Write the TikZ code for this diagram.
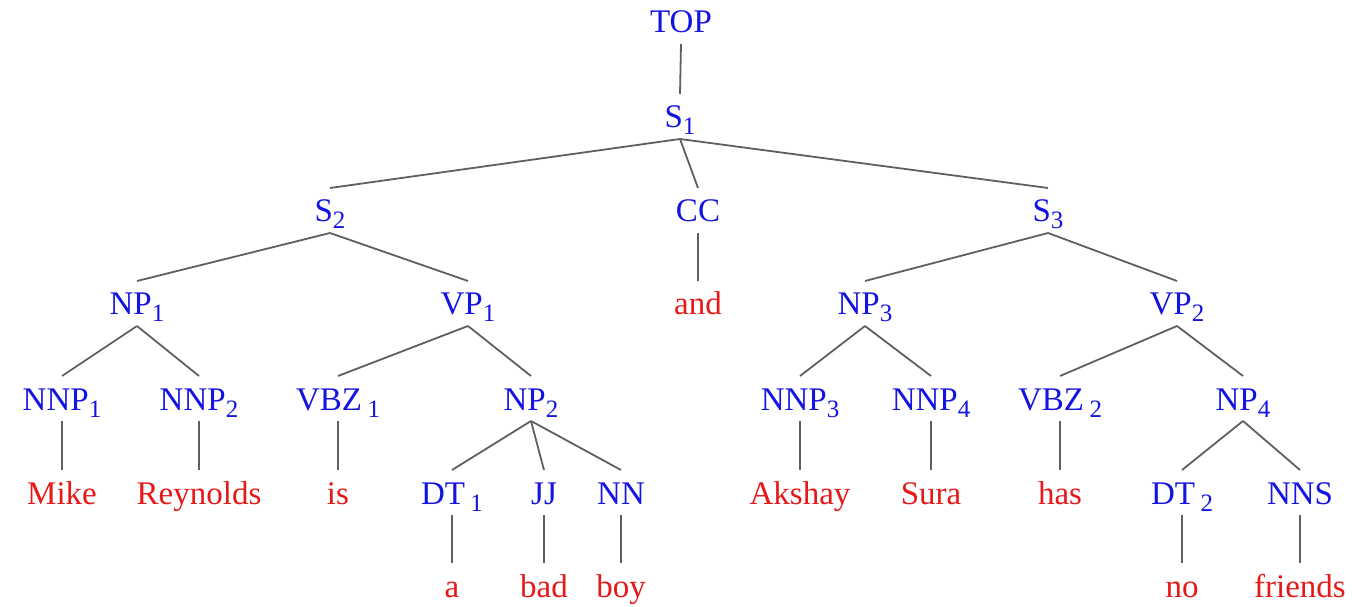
\documentclass[tikz,border=0pt]{standalone}
\usepackage{fontspec}
\setmainfont{Liberation Serif}
\definecolor{tagblue}{RGB}{20,20,225}
\definecolor{wordred}{RGB}{230,25,25}
\definecolor{edgegray}{RGB}{95,95,95}
\newcommand\sbs[1]{\raisebox{-7pt}{\fontsize{25}{25}\selectfont #1}}
\tikzset{
  tag/.style={anchor=base, inner sep=0pt, text=tagblue, font=\fontsize{33}{33}\selectfont},
  word/.style={anchor=base, inner sep=0pt, text=wordred, font=\fontsize{33}{33}\selectfont},
  edge/.style={draw=edgegray, line width=1.8pt}
}
\newcommand\tedge[2]{\draw[edge] ([yshift=-11pt]#1.base) -- ([yshift=34pt]#2.base);}
\begin{document}
\begin{tikzpicture}[x=1pt,y=1pt]
\useasboundingbox (0,0) rectangle (1355,606);
% levels (baseline, y up)
\def\La{573}\def\Lb{478}\def\Lc{384}\def\Ld{291}\def\Le{196}\def\Lf{102}\def\Lg{9}
\node[tag] (top) at (681,\La) {TOP};
\node[tag] (s1) at (680,\Lb) {S\sbs{1}};
\node[tag] (s2) at (330,\Lc) {S\sbs{2}};
\node[tag] (cc) at (698,\Lc) {CC};
\node[tag] (s3) at (1048,\Lc) {S\sbs{3}};
\node[tag] (np1) at (137,\Ld) {NP\sbs{1}};
\node[tag] (vp1) at (468,\Ld) {VP\sbs{1}};
\node[word] (and) at (698,\Ld) {and};
\node[tag] (np3) at (865,\Ld) {NP\sbs{3}};
\node[tag] (vp2) at (1177,\Ld) {VP\sbs{2}};
\node[tag] (nnp1) at (62,\Le) {NNP\sbs{1}};
\node[tag] (nnp2) at (199,\Le) {NNP\sbs{2}};
\node[tag] (vbz1) at (338,\Le) {VBZ\,\sbs{1}};
\node[tag] (np2) at (531,\Le) {NP\sbs{2}};
\node[tag] (nnp3) at (800,\Le) {NNP\sbs{3}};
\node[tag] (nnp4) at (931,\Le) {NNP\sbs{4}};
\node[tag] (vbz2) at (1060,\Le) {VBZ\,\sbs{2}};
\node[tag] (np4) at (1243,\Le) {NP\sbs{4}};
\node[word] (mike) at (62,\Lf) {Mike};
\node[word] (reyn) at (199,\Lf) {Reynolds};
\node[word] (is) at (338,\Lf) {is};
\node[tag] (dt1) at (452,\Lf) {DT\,\sbs{1}};
\node[tag] (jj) at (544,\Lf) {JJ};
\node[tag] (nn) at (621,\Lf) {NN};
\node[word] (aksh) at (800,\Lf) {Akshay};
\node[word] (sura) at (931,\Lf) {Sura};
\node[word] (has) at (1060,\Lf) {has};
\node[tag] (dt2) at (1182,\Lf) {DT\,\sbs{2}};
\node[tag] (nns) at (1300,\Lf) {NNS};
\node[word] (a) at (452,\Lg) {a};
\node[word] (bad) at (544,\Lg) {bad};
\node[word] (boy) at (621,\Lg) {boy};
\node[word] (no) at (1182,\Lg) {no};
\node[word] (friends) at (1300,\Lg) {friends};
% edges
\tedge{top}{s1}
\tedge{s1}{s2}\tedge{s1}{cc}\tedge{s1}{s3}
\tedge{s2}{np1}\tedge{s2}{vp1}
\tedge{cc}{and}
\tedge{s3}{np3}\tedge{s3}{vp2}
\tedge{np1}{nnp1}\tedge{np1}{nnp2}
\tedge{vp1}{vbz1}\tedge{vp1}{np2}
\tedge{np3}{nnp3}\tedge{np3}{nnp4}
\tedge{vp2}{vbz2}\tedge{vp2}{np4}
\tedge{nnp1}{mike}\tedge{nnp2}{reyn}\tedge{vbz1}{is}
\tedge{np2}{dt1}\tedge{np2}{jj}\tedge{np2}{nn}
\tedge{nnp3}{aksh}\tedge{nnp4}{sura}\tedge{vbz2}{has}
\tedge{np4}{dt2}\tedge{np4}{nns}
\tedge{dt1}{a}\tedge{jj}{bad}\tedge{nn}{boy}
\tedge{dt2}{no}\tedge{nns}{friends}
\end{tikzpicture}
\end{document}
